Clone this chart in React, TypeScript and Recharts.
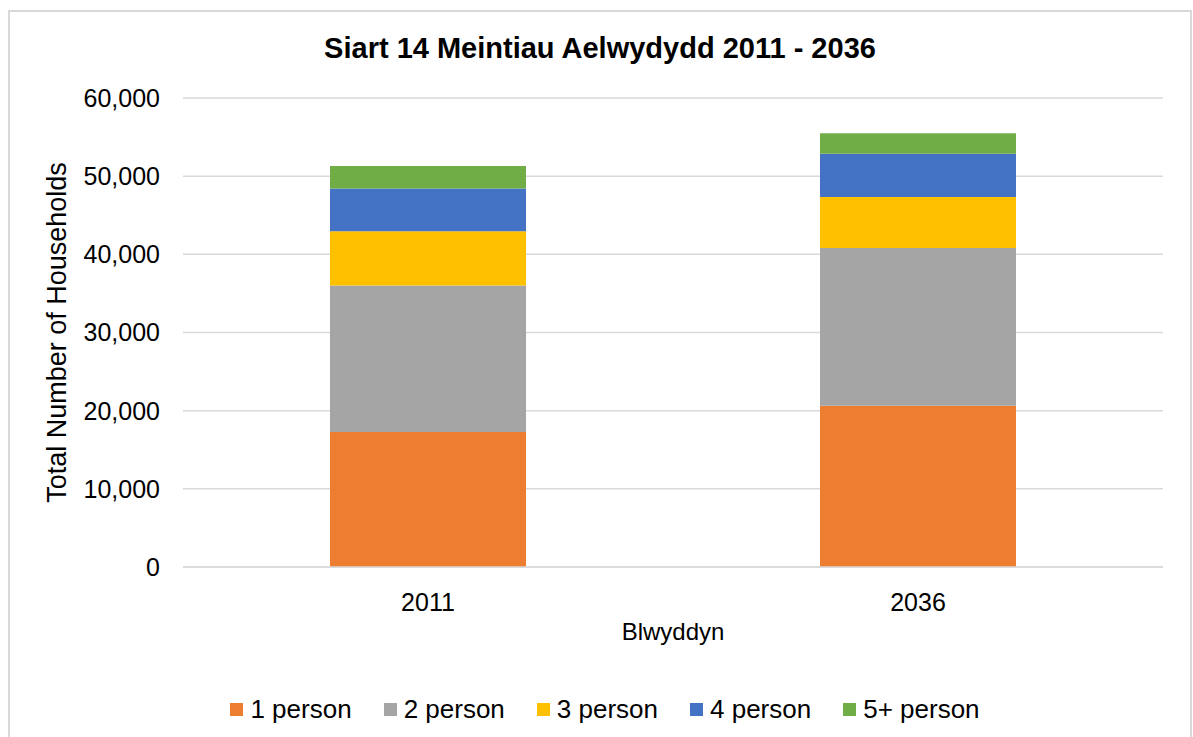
import {
  BarChart,
  Bar,
  XAxis,
  YAxis,
  CartesianGrid,
  Legend,
} from "recharts";

const years = ["2011", "2036"];
const onePerson = [17270, 20640];
const twoPerson = [18730, 20180];
const threePerson = [6940, 6510];
const fourPerson = [5490, 5530];
const fivePlusPerson = [2860, 2640];
const yTicks = [0, 10000, 20000, 30000, 40000, 50000, 60000];

const seriesList = [
  { key: "p1", name: "1 person", values: onePerson, color: "#ED7D31" },
  { key: "p2", name: "2 person", values: twoPerson, color: "#A5A5A5" },
  { key: "p3", name: "3 person", values: threePerson, color: "#FFC000" },
  { key: "p4", name: "4 person", values: fourPerson, color: "#4472C4" },
  { key: "p5", name: "5+ person", values: fivePlusPerson, color: "#70AD47" },
];

const data = years.map((year, i) => {
  const row: Record<string, string | number> = { year };
  seriesList.forEach((s) => {
    row[s.key] = s.values[i];
  });
  return row;
});

const FONT = "'Liberation Sans', Arial, sans-serif";

const YLabel = (props: any) => {
  const { viewBox } = props;
  const cx = viewBox.x + 47;
  const cy = viewBox.y + viewBox.height / 2;
  return (
    <text
      x={cx}
      y={cy}
      transform={`rotate(-90 ${cx} ${cy})`}
      textAnchor="middle"
      dominantBaseline="central"
      fontSize={27}
      fontFamily={FONT}
      fill="#000"
    >
      Total Number of Households
    </text>
  );
};

const LegendContent = () => (
  <div
    style={{
      height: 40,
      display: "flex",
      justifyContent: "center",
      alignItems: "center",
      gap: 32,
      paddingLeft: 10,
      fontFamily: FONT,
      fontSize: 26,
      color: "#000",
    }}
  >
    {seriesList.map((s) => (
      <div key={s.key} style={{ display: "flex", alignItems: "center" }}>
        <span
          style={{
            width: 13,
            height: 13,
            background: s.color,
            marginRight: 7,
            display: "inline-block",
          }}
        />
        <span>{s.name}</span>
      </div>
    ))}
  </div>
);

export default function App() {
  return (
    <div
      style={{
        position: "absolute",
        left: 8,
        top: 10,
        width: 1184,
        height: 740,
        border: "2px solid #d9d9d9",
        boxSizing: "border-box",
        background: "#fff",
      }}
    >
      <div
        style={{
          position: "absolute",
          top: 18,
          left: 0,
          width: "100%",
          textAlign: "center",
          lineHeight: "36px",
          fontFamily: FONT,
          fontWeight: "bold",
          fontSize: 29,
          color: "#000",
        }}
      >
        Siart 14 Meintiau Aelwydydd 2011 - 2036
      </div>
      <BarChart
        width={1180}
        height={726}
        data={data}
        margin={{ top: 86, right: 27, left: 0, bottom: 91 }}
        barCategoryGap="30%"
      >
        <CartesianGrid
          vertical={false}
          stroke="#d9d9d9"
          strokeWidth={1.5}
        />
        <XAxis
          dataKey="year"
          height={40}
          axisLine={{ stroke: "#d9d9d9", strokeWidth: 1.5 }}
          tickLine={false}
          tickSize={0}
          tickMargin={26}
          tick={{ fontSize: 25, fontFamily: FONT, fill: "#000" }}
          label={{
            value: "Blwyddyn",
            position: "bottom",
            offset: 16,
            fontSize: 24,
            fontFamily: FONT,
            fill: "#000",
          }}
        />
        <YAxis
          width={173}
          domain={[0, 60000]}
          ticks={yTicks}
          interval={0}
          axisLine={false}
          tickLine={false}
          tickSize={0}
          tickMargin={23}
          tickFormatter={(v: number) => v.toLocaleString("en-US")}
          tick={{ fontSize: 25, fontFamily: FONT, fill: "#000" }}
          label={<YLabel />}
        />
        <Legend
          verticalAlign="bottom"
          content={<LegendContent />}
          wrapperStyle={{ top: 677, left: 0, width: 1180 }}
        />
        {seriesList.map((s) => (
          <Bar
            key={s.key}
            dataKey={s.key}
            name={s.name}
            stackId="a"
            fill={s.color}
            isAnimationActive={false}
          />
        ))}
      </BarChart>
    </div>
  );
}
